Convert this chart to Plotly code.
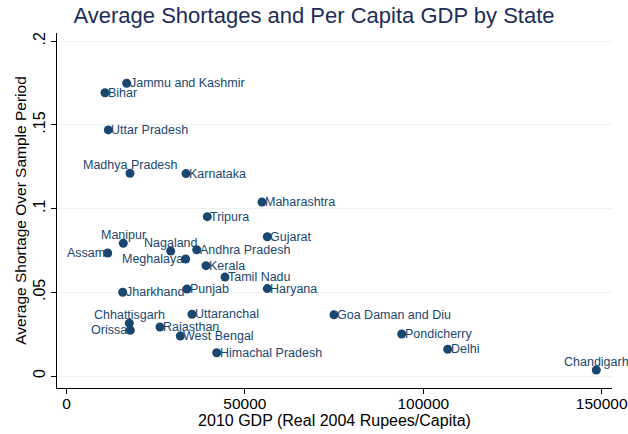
import plotly.graph_objects as go

# Données (PIB 2010 par habitant, pénurie moyenne)
states = [
    "Jammu and Kashmir", "Bihar", "Uttar Pradesh", "Madhya Pradesh", "Karnataka",
    "Maharashtra", "Tripura", "Gujarat", "Manipur", "Nagaland",
    "Andhra Pradesh", "Assam", "Meghalaya", "Kerala", "Tamil Nadu",
    "Jharkhand", "Punjab", "Haryana", "Chhattisgarh", "Orissa",
    "Rajasthan", "Uttaranchal", "West Bengal", "Himachal Pradesh", "Goa Daman and Diu",
    "Pondicherry", "Delhi", "Chandigarh",
]
gdp = [
    16870, 10790, 11715, 17800, 33490,
    54790, 39460, 56280, 15920, 29200,
    36490, 11550, 33410, 39100, 44420,
    15750, 33770, 56280, 17600, 17880,
    26200, 35170, 31900, 42100, 74970,
    93950, 106840, 148490,
]
shortage = [
    0.1749, 0.1692, 0.1470, 0.1211, 0.1209,
    0.1039, 0.0952, 0.0832, 0.0793, 0.0747,
    0.0754, 0.0735, 0.0699, 0.0659, 0.0591,
    0.0500, 0.0520, 0.0522, 0.0315, 0.0273,
    0.0293, 0.0369, 0.0239, 0.0139, 0.0366,
    0.0251, 0.0160, 0.0036,
]
# position des étiquettes (par défaut : à droite du point)
label_pos = {
    "Madhya Pradesh": "top", "Manipur": "top", "Nagaland": "top",
    "Chhattisgarh": "top", "Chandigarh": "top",
    "Assam": "left", "Meghalaya": "left", "Orissa": "left",
}

x_ticks = [0, 50000, 100000, 150000]
y_ticks = [0, 0.05, 0.1, 0.15, 0.2]
y_tick_labels = ["0", ".05", ".1", ".15", ".2"]

navy = "#1a476f"
font_family = "Liberation Sans"

fig = go.Figure()
fig.add_trace(go.Scatter(
    x=gdp,
    y=shortage,
    mode="markers",
    marker=dict(size=9, color=navy),
    cliponaxis=False,
    showlegend=False,
    hovertext=states,
))

# Étiquettes des États
for name, xv, yv in zip(states, gdp, shortage):
    pos = label_pos.get(name, "right")
    if pos == "top":
        anchor = dict(xanchor="center", yanchor="middle", xshift=0, yshift=8)
    elif pos == "left":
        anchor = dict(xanchor="right", yanchor="middle", xshift=-2, yshift=0)
    else:
        anchor = dict(xanchor="left", yanchor="middle", xshift=2, yshift=0)
    fig.add_annotation(
        x=xv, y=yv, text=name, showarrow=False,
        font=dict(family=font_family, size=12.5, color=navy),
        borderpad=0,
        **anchor,
    )

fig.update_layout(
    width=628,
    height=434,
    title=dict(
        text="Average Shortages and Per Capita GDP by State",
        x=0.5, xanchor="center", y=0.964, yanchor="middle",
        font=dict(family=font_family, size=22, color="#1c2d59"),
    ),
    font=dict(family=font_family, size=16, color="black"),
    plot_bgcolor="white",
    paper_bgcolor="white",
    margin=dict(l=57, r=16, t=33, b=46),
    xaxis=dict(
        range=[-2663, 152890],
        tickvals=x_ticks,
        tickformat="d",
        tickfont=dict(size=15.5),
        ticklabelstandoff=-4,
        ticklabeloverflow="allow",
        ticks="outside", ticklen=5, tickcolor="black",
        showline=True, linecolor="black", linewidth=1,
        showgrid=False, zeroline=False,
        automargin=False,
        title=dict(text="2010 GDP (Real 2004 Rupees/Capita)", standoff=0,
                   font=dict(size=16)),
    ),
    yaxis=dict(
        range=[-0.00717, 0.2049],
        tickvals=y_ticks,
        ticktext=y_tick_labels,
        tickangle=-90,
        tickfont=dict(size=16),
        ticks="outside", ticklen=5, tickcolor="black",
        showline=True, linecolor="black", linewidth=1,
        showgrid=True, gridcolor="#eaf2f3", gridwidth=1,
        zeroline=False,
        automargin=False,
        title=dict(text="Average Shortage Over Sample Period", standoff=0,
                   font=dict(size=15.5)),
    ),
)

# pas de marge autour de la page, pas de barre d'outils
fig.write_html(
    "out.html",
    config={"displayModeBar": False},
    post_script="document.body.style.margin='0';",
)
